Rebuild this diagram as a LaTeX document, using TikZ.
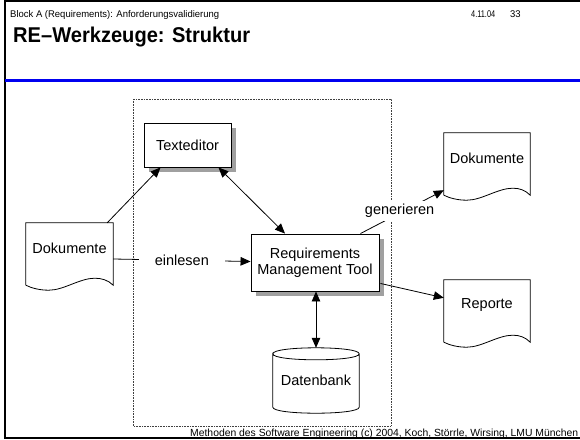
\documentclass[tikz,border=0pt]{standalone}
\usepackage{fontspec}
\usepackage{graphicx}
\setmainfont{Liberation Sans}
\usetikzlibrary{arrows.meta,calc,shadows}
\definecolor{shadecol}{RGB}{160,160,160}
\definecolor{slideblue}{RGB}{0,0,240}
\newcommand\docwave[1]{%
  \draw[line width=0.8pt] ($(#1.south west)+(0,12)$) -- (#1.north west) -- (#1.north east)
    -- ($(#1.south east)+(0,12)$)
    .. controls +(-5,-5) and +(7,0) .. ($(#1.south west)+(69,5)$)
    .. controls +(-15,0) and +(15,0) .. ($(#1.south west)+(23,17)$)
    .. controls +(-9,0) and +(6,3) .. ($(#1.south west)+(0,12)$);}
\begin{document}
\begin{tikzpicture}[x=1pt,y=-1pt,
  lbl/.style={font=\fontsize{14.5}{16}\selectfont},
  box/.style={draw, fill=white, line width=0.9pt, align=center, lbl, inner sep=0pt,
    drop shadow={shadow xshift=5pt, shadow yshift=-5pt, fill=shadecol, opacity=1}},
  doc/.style={lbl, inner sep=0pt},
  elbl/.style={lbl, fill=white},
  tip/.tip={Triangle[length=10pt,width=8.5pt]},
  arr/.style={line width=0.8pt, -tip},
  darr/.style={line width=0.8pt, tip-tip},
  slidetxt/.style={anchor=base west, inner sep=0pt},
]
\useasboundingbox (0,0) rectangle (580,439);
\fill[white] (0,0) rectangle (580,439);

% slide frame
\draw[line width=2pt] (4,1) -- (580,1);
\draw[line width=2pt] (5,0) -- (5,439);
\draw[slideblue, line width=3pt] (5,80) -- (580,80);

% slide texts
\node[slidetxt] (hdr) at (10,17) {\resizebox{209pt}{7pt}{\fontsize{9.5}{11}\selectfont Block A (Requirements): Anforderungsvalidierung}};
\node[slidetxt] (date) at (471,17.5) {\resizebox{24pt}{6.8pt}{\fontsize{9.5}{11}\selectfont 4.11.04}};
\node[slidetxt] (page) at (510,17.5) {\resizebox{10.5pt}{6.8pt}{\fontsize{9.5}{11}\selectfont 33}};
\node[slidetxt] (title) at (13,42) {\resizebox{237pt}{15.5pt}{\fontsize{20}{24}\bfseries\selectfont RE–Werkzeuge: Struktur}};
\node[slidetxt] (foot) at (190,436) {\resizebox{388pt}{7.5pt}{\fontsize{10}{12}\selectfont Methoden des Software Engineering (c) 2004, Koch, Störrle, Wirsing, LMU München}};
\draw[line width=2pt] (5,437.5) -- (580,437.5);

% dotted system frame
\draw[densely dotted, line width=0.6pt, black!75] (133,99) rectangle (391,426);

% nodes
\node[box, minimum width=87, minimum height=44] (te) at (187.5,145) {Texteditor};
\node[box, minimum width=128, minimum height=57] (rmt) at (315,262.5) {Requirements\\Management Tool};
\node[doc, minimum width=87, minimum height=50] (dl) at (69.5,248) {Dokumente};
\node[doc, minimum width=86, minimum height=50] (dr) at (487,158) {Dokumente};
\node[doc, minimum width=86, minimum height=50] (rp) at (487,305) {Reporte};
\node[doc, minimum width=86, minimum height=65] (db) at (316,380.5) {Datenbank};
\docwave{dl}
\docwave{dr}
\docwave{rp}
% database cylinder
\draw[line width=0.8pt] (db.north west) ++(0,6) coordinate (dbtl)
  .. controls +(0,-8) and +(0,-8) .. ($(db.north east)+(0,6)$) coordinate (dbtr)
  .. controls +(0,8) and +(0,8) .. (dbtl) -- ($(db.south west)+(0,-6)$)
  .. controls +(0,8) and +(0,8) .. ($(db.south east)+(0,-6)$) -- (dbtr);

% connectors
\draw[arr] ($(dl.north east)+(-6,0)$) -- ($(te.south)+(-27,0)$);
\draw[darr] ($(te.south east)+(-13,0)$) -- ($(rmt.north)+(-30,0)$);
\draw[arr] ($(dl.east)+(0,11)$) -- node[elbl, inner xsep=16pt, inner ysep=2pt] (ein) {einlesen} ($(rmt.west)+(0,-1)$);
\draw[arr] ($(rmt.north east)+(-19,0)$) -- node[elbl, inner sep=3pt, pos=0.47, yshift=2pt] (gen) {generieren} ($(dr.south west)+(0,7)$);
\draw[arr] ($(rmt.south east)+(1,-8)$) -- ($(rp.north west)+(0,18)$);
\draw[darr] ($(rmt.south)+(1,0)$) -- (db.north);
\end{tikzpicture}
\end{document}
